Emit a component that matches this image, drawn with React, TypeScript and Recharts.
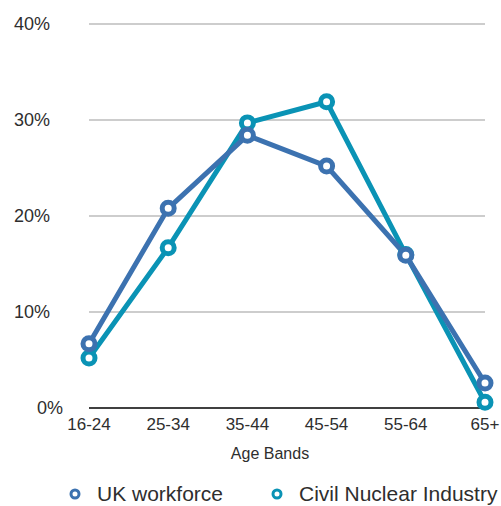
import { LineChart, Line, XAxis, YAxis, CartesianGrid, Legend } from "recharts";

const bands = ["16-24", "25-34", "35-44", "45-54", "55-64", "65+"];
const ukWorkforce = [0.067, 0.208, 0.284, 0.252, 0.159, 0.026];
const civilNuclear = [0.052, 0.167, 0.297, 0.319, 0.16, 0.006];
const yTicks = [0, 0.1, 0.2, 0.3, 0.4];

const BLUE = "#3c72b0";
const TEAL = "#0a93b5";
const TEXT = "#2e2e2e";

const data = bands.map((band, i) => ({
    band,
    uk: ukWorkforce[i],
    nuclear: civilNuclear[i],
}));

const legendItems = [
    { name: "UK workforce", color: BLUE },
    { name: "Civil Nuclear Industry", color: TEAL },
];

const YTick = (props: any) => {
    const { x, y, payload } = props;
    // the 0% label sits further right in the original
    const shift = payload.value === 0 ? 13 : 0;
    return (
        <text
            x={x - 31 + shift}
            y={y}
            dy="0.35em"
            textAnchor="end"
            fontSize={18}
            fill={TEXT}
        >
            {Math.round(payload.value * 100)}%
        </text>
    );
};

const renderLegend = () => (
    <div
        style={{
            display: "flex",
            alignItems: "center",
            paddingLeft: 68,
            paddingTop: 18,
            fontSize: 21,
            color: TEXT,
            whiteSpace: "nowrap",
        }}
    >
        {legendItems.map((item, i) => (
            <div
                key={item.name}
                style={{ display: "flex", alignItems: "center", flexShrink: 0, marginRight: i === 0 ? 47 : 0 }}
            >
                <svg width={14} height={14} style={{ marginRight: 15 }}>
                    <circle cx={7} cy={7} r={4} fill="#fff" stroke={item.color} strokeWidth={3} />
                </svg>
                <span>{item.name}</span>
            </div>
        ))}
    </div>
);

const App = () => (
    <div style={{ position: "absolute", left: 0, top: 0, fontFamily: "'Liberation Sans', Arial, sans-serif" }}>
        <LineChart width={501} height={506} data={data} margin={{ top: 24, right: 16, left: 0, bottom: 2 }}>
            <CartesianGrid vertical={false} stroke="#bdbdbd" strokeWidth={1.5} />
            <XAxis
                dataKey="band"
                axisLine={{ stroke: "#111", strokeWidth: 1.5 }}
                tickLine={false}
                tick={{ fontSize: 17, fill: TEXT }}
                tickMargin={4}
                height={56}
                label={{ value: "Age Bands", position: "insideBottom", dx: -17, offset: 5, fontSize: 16, fill: TEXT }}
            />
            <YAxis
                width={89}
                domain={[0, 0.4]}
                ticks={yTicks}
                axisLine={false}
                tickLine={false}
                tick={<YTick />}
            />
            <Legend
                verticalAlign="bottom"
                height={40}
                wrapperStyle={{ left: 0, width: 501 }}
                content={renderLegend}
            />
            <Line
                dataKey="nuclear"
                name="Civil Nuclear Industry"
                stroke={TEAL}
                strokeWidth={5}
                dot={{ r: 6, fill: "#fff", stroke: TEAL, strokeWidth: 5 }}
                isAnimationActive={false}
            />
            <Line
                dataKey="uk"
                name="UK workforce"
                stroke={BLUE}
                strokeWidth={5}
                dot={{ r: 6, fill: "#fff", stroke: BLUE, strokeWidth: 5 }}
                isAnimationActive={false}
            />
        </LineChart>
    </div>
);

export default App;
